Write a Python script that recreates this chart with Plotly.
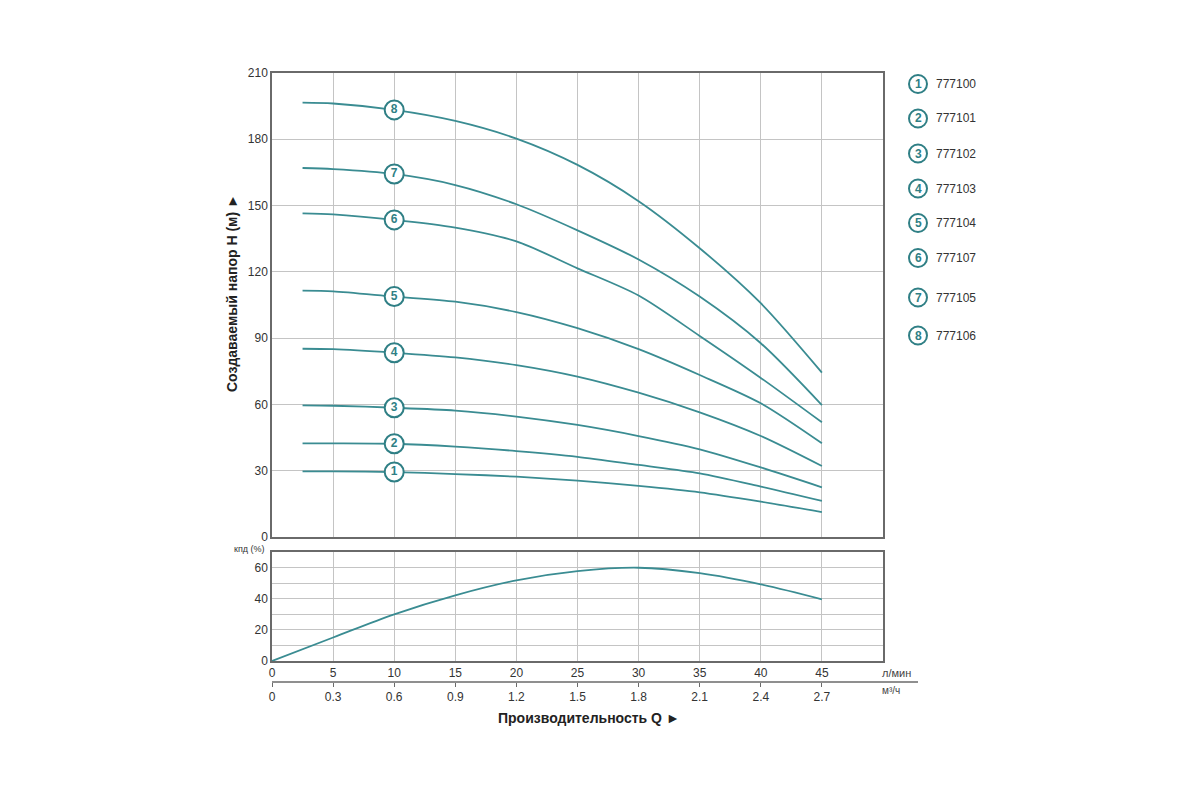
import plotly.graph_objects as go

# flow, l/min
flow = [2.5, 5, 10, 15, 20, 25, 30, 35, 40, 45]

# head H (m) per pump model
head_1 = [29.7, 29.7, 29.4, 28.5, 27.3, 25.5, 23.1, 20.2, 16.0, 11.3]
head_2 = [42.4, 42.4, 42.2, 40.9, 38.9, 36.3, 32.6, 28.8, 22.8, 16.3]
head_3 = [59.6, 59.4, 58.5, 57.2, 54.5, 50.7, 45.7, 39.7, 31.5, 22.5]
head_4 = [85.2, 85.0, 83.4, 81.3, 77.8, 72.6, 65.3, 56.4, 45.7, 32.1]
head_5 = [111.5, 111.2, 108.8, 106.5, 101.8, 94.5, 85.0, 73.3, 60.5, 42.4]
head_6 = [146.5, 146.0, 143.5, 140.0, 133.8, 121.6, 109.3, 91.0, 72.0, 51.9]
head_7 = [167.0, 166.5, 164.3, 159.3, 150.6, 138.8, 125.6, 108.8, 87.7, 59.7]
head_8 = [196.6, 196.2, 193.3, 188.3, 180.3, 168.4, 152.0, 130.7, 105.8, 74.4]
heads = [head_1, head_2, head_3, head_4, head_5, head_6, head_7, head_8]

models = ["777100", "777101", "777102", "777103", "777104", "777107", "777105", "777106"]
label_flow = 10

# efficiency, %
eff_flow = [0, 5, 10, 15, 20, 25, 30, 35, 40, 45]
eff = [0, 15.1, 30.0, 42.2, 51.8, 57.7, 59.9, 56.4, 49.2, 39.6]

flow_ticks = [0, 5, 10, 15, 20, 25, 30, 35, 40, 45]
m3h_ticks = [0, 0.3, 0.6, 0.9, 1.2, 1.5, 1.8, 2.1, 2.4, 2.7]

teal = "#3a8c92"
teal_dark = "#2f7f85"
grid = "#c4c4c4"
border = "#6a6a6a"
font = "Liberation Sans, Arial, sans-serif"

fig = go.Figure()

for h in heads:
    fig.add_trace(go.Scatter(x=flow, y=h, mode="lines",
                             line=dict(color=teal, width=1.8, shape="spline", smoothing=0.8),
                             xaxis="x", yaxis="y", showlegend=False, hoverinfo="skip"))

i10 = flow.index(label_flow)
fig.add_trace(go.Scatter(
    x=[label_flow] * len(heads), y=[h[i10] for h in heads],
    mode="markers+text", text=[str(i + 1) for i in range(len(heads))],
    textposition="middle center",
    textfont=dict(color=teal_dark, size=12, family=font, weight="bold"),
    marker=dict(size=19, color="white", line=dict(color=teal_dark, width=2)),
    xaxis="x", yaxis="y", showlegend=False, hoverinfo="skip"))

fig.add_trace(go.Scatter(x=eff_flow, y=eff, mode="lines", line=dict(color=teal, width=1.8, shape="spline"),
                         xaxis="x2", yaxis="y2", showlegend=False, hoverinfo="skip"))

# invisible trace so the m3/h axis gets drawn
fig.add_trace(go.Scatter(x=[0, 3.0], y=[0, 0], mode="markers", marker=dict(opacity=0),
                         xaxis="x3", yaxis="y2", showlegend=False, hoverinfo="skip"))

# positions in screen pixels (page body adds 8 px)
legend_y_px = [84, 118.5, 153.5, 188.5, 223, 258, 297.5, 335.5]
top_px, bottom_px, left_px, right_px = 73, 682, 272, 883
off = 8
plot_h = bottom_px - top_px
plot_w = right_px - left_px


def px_x(p):
    return (p - left_px) / plot_w


def px_y(p):
    return (bottom_px - p) / plot_h


shapes = []
annotations = []
for i, (m, ypx) in enumerate(zip(models, legend_y_px)):
    shapes.append(dict(type="circle", xref="paper", yref="paper", xsizemode="pixel", ysizemode="pixel",
                       xanchor=px_x(918), yanchor=px_y(ypx), x0=-9, x1=9, y0=-9, y1=9,
                       line=dict(color=teal_dark, width=2), fillcolor="white"))
    annotations.append(dict(x=px_x(918), y=px_y(ypx), xref="paper", yref="paper", text=str(i + 1),
                            xanchor="center", yanchor="middle", showarrow=False,
                            font=dict(color=teal_dark, size=12, family=font, weight="bold")))
    annotations.append(dict(x=px_x(934), y=px_y(ypx), xref="paper", yref="paper", text=m,
                            xanchor="left", yanchor="middle", showarrow=False,
                            font=dict(color="#333", size=12, family=font)))

# m3/h axis line
shapes.append(dict(type="line", xref="paper", yref="paper", x0=0, x1=px_x(918), y0=0, y1=0,
                   line=dict(color=border, width=1.5)))

annotations += [
    dict(x=px_x(232), y=px_y(293), xref="paper", yref="paper", text="Создаваемый напор H (м) ►",
         textangle=-90, xanchor="center", yanchor="middle", showarrow=False,
         font=dict(size=14, color="#222", family=font, weight="bold")),
    dict(x=px_x(589), y=px_y(718), xref="paper", yref="paper", text="Производительность Q ►",
         xanchor="center", yanchor="middle", showarrow=False,
         font=dict(size=14, color="#222", family=font, weight="bold")),
    dict(x=px_x(267), y=px_y(549), xref="paper", yref="paper", text="кпд (%)",
         xanchor="right", yanchor="middle", showarrow=False,
         font=dict(size=9, color="#333", family=font)),
    dict(x=px_x(880), y=px_y(673), xref="paper", yref="paper", text="л/мин",
         xanchor="left", yanchor="middle", showarrow=False,
         font=dict(size=11, color="#444", family=font)),
    dict(x=px_x(880), y=px_y(690), xref="paper", yref="paper", text="м³/ч",
         xanchor="left", yanchor="middle", showarrow=False,
         font=dict(size=10, color="#444", family=font)),
]

axis_common = dict(showline=True, mirror=True, linecolor=border, linewidth=1.5, gridcolor=grid,
                   gridwidth=1.2, zeroline=False, tickfont=dict(size=12, color="#333", family=font))

fig.update_layout(
    width=1200, height=800,
    margin=dict(l=left_px - off, r=1200 - right_px + off, t=top_px - off, b=800 - bottom_px + off),
    plot_bgcolor="white", paper_bgcolor="white",
    shapes=shapes, annotations=annotations,
    xaxis=dict(domain=[0, 1], range=[0, 50], tickvals=flow_ticks, showticklabels=False,
               anchor="y", **axis_common),
    yaxis=dict(domain=[px_y(537), 1], range=[0, 210], dtick=30, anchor="x", **axis_common),
    xaxis2=dict(domain=[0, 1], range=[0, 50], tickvals=flow_ticks, anchor="y2", **axis_common),
    yaxis2=dict(domain=[px_y(661), px_y(552)], range=[0, 70],
                tickvals=[0, 10, 20, 30, 40, 50, 60, 70],
                ticktext=["0", "", "20", "", "40", "", "60", ""], anchor="x2", **axis_common),
    xaxis3=dict(overlaying="x2", anchor="free", position=0, range=[0, 3.0], tickvals=m3h_ticks,
                ticktext=[f"{v:g}" for v in m3h_ticks], showgrid=False, showline=False, zeroline=False,
                ticks="outside", ticklen=4, tickcolor=border, side="bottom",
                tickfont=dict(size=12, color="#333", family=font)),
)

fig.write_html("out.html")
